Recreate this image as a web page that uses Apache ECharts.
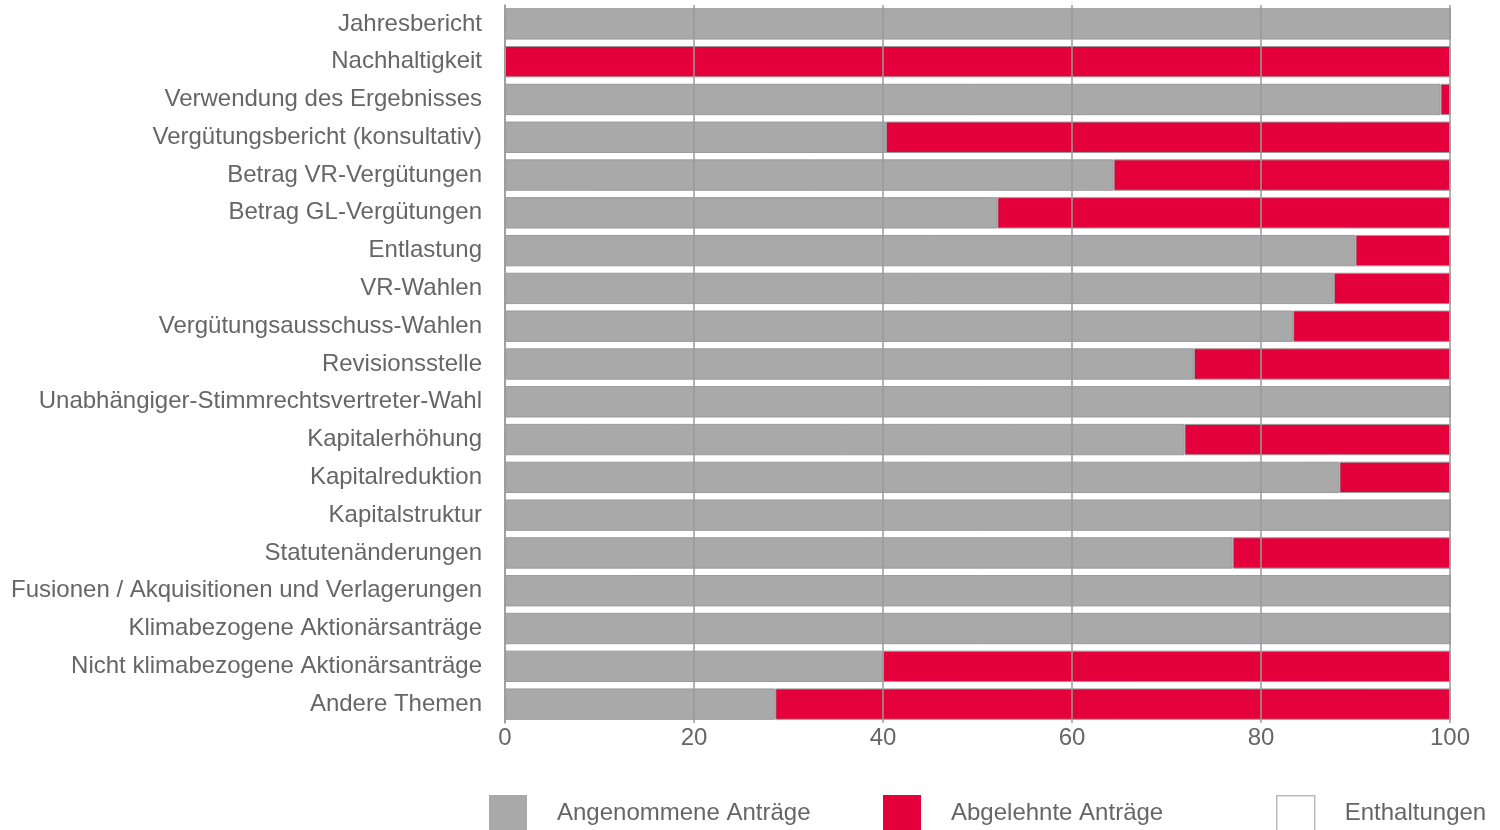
<!DOCTYPE html>
<html><head><meta charset="utf-8">
<script src="https://cdn.jsdelivr.net/npm/echarts@6/dist/echarts.min.js"></script>
<style>html,body{margin:0;padding:0;background:#fff}#c{width:1500px;height:830px}</style>
</head><body><div id="c"></div>
<script>
const categories = [
  "Jahresbericht",
  "Nachhaltigkeit",
  "Verwendung des Ergebnisses",
  "Vergütungsbericht (konsultativ)",
  "Betrag VR-Vergütungen",
  "Betrag GL-Vergütungen",
  "Entlastung",
  "VR-Wahlen",
  "Vergütungsausschuss-Wahlen",
  "Revisionsstelle",
  "Unabhängiger-Stimmrechtsvertreter-Wahl",
  "Kapitalerhöhung",
  "Kapitalreduktion",
  "Kapitalstruktur",
  "Statutenänderungen",
  "Fusionen / Akquisitionen und Verlagerungen",
  "Klimabezogene Aktionärsanträge",
  "Nicht klimabezogene Aktionärsanträge",
  "Andere Themen"
];
const angenommen = [100, 0, 99.0, 40.3, 64.4, 52.1, 90.0, 87.7, 83.4, 72.9, 100, 71.9, 88.3, 100, 77.0, 100, 100, 40.0, 28.6];
const abgelehnt  = [0, 100, 1.0, 59.7, 35.6, 47.9, 10.0, 12.3, 16.6, 27.1, 0, 28.1, 11.7, 0, 23.0, 0, 0, 60.0, 71.4];
const enthaltungen = [0, 0, 0, 0, 0, 0, 0, 0, 0, 0, 0, 0, 0, 0, 0, 0, 0, 0, 0];
const xTicks = [0, 20, 40, 60, 80, 100];
const seriesNames = ["Angenommene Anträge", "Abgelehnte Anträge", "Enthaltungen"];

const FONT = "Liberation Sans, Arial, sans-serif";
const colors = ["#A9A9A9", "#E4003A", "#FFFFFF"];
const chart = echarts.init(document.getElementById('c'), null, {renderer: 'canvas'});

function mkSeries(name, data, color) {
  return {
    name: name, type: 'bar', stack: 'total', data: data,
    barCategoryGap: '17%',
    itemStyle: { color: color, borderColor: '#9a9a9a', borderWidth: 1 },
    emphasis: { disabled: true },
    silent: true
  };
}
const legendPos = [489, 883, 1276];
chart.setOption({
  animation: false,
  textStyle: { fontFamily: FONT },
  grid: { left: 505, right: 50, top: 5, bottom: 107, containLabel: false },
  xAxis: {
    type: 'value', min: xTicks[0], max: xTicks[xTicks.length - 1], interval: 20,
    z: 5,
    axisLine: { show: false }, axisTick: { show: false },
    splitLine: { show: true, lineStyle: { color: '#9a9a9a', width: 1.5 } },
    axisLabel: { color: '#666', fontSize: 24, fontFamily: FONT, margin: 3 }
  },
  yAxis: {
    type: 'category', data: categories, inverse: true,
    z: 5,
    axisLine: { show: true, lineStyle: { color: '#9a9a9a', width: 1.5 } },
    axisTick: { show: false },
    axisLabel: { color: '#666', fontSize: 24, fontFamily: FONT, margin: 23 }
  },
  legend: seriesNames.map((n, i) => ({
    data: [n], left: legendPos[i], top: 795, padding: 0,
    itemWidth: 38, itemHeight: 36, icon: 'rect',
    selectedMode: false,
    itemStyle: { borderColor: i === 2 ? '#bbbbbb' : colors[i], borderWidth: i === 2 ? 1.5 : 0 },
    textStyle: { color: '#666', fontSize: 24, fontFamily: FONT, padding: [0, 0, 0, 25] }
  })),
  series: [
    mkSeries(seriesNames[0], angenommen, colors[0]),
    mkSeries(seriesNames[1], abgelehnt, colors[1]),
    mkSeries(seriesNames[2], enthaltungen, colors[2])
  ]
});
</script></body></html>
